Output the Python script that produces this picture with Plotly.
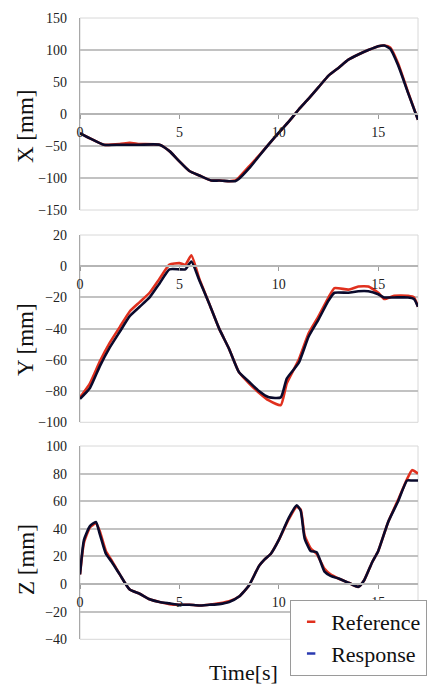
import plotly.graph_objects as go

# ---------------- data ----------------
t_x = [0, 0.5, 1.2, 2.0, 2.5, 3.0, 4.0, 4.5, 5.0, 5.5, 6.0, 6.6, 7.0, 7.5, 7.8, 8.0, 8.5, 9.0, 9.5,
       10.0, 10.5, 11.0, 11.5, 12.0, 12.5, 13.0, 13.5, 14.0, 14.5, 15.0, 15.3, 15.6, 16.0, 16.5, 17.0]
x_resp = [-30, -38, -48, -48, -48, -48, -48, -58, -74, -89, -96, -104, -104, -105, -105, -101, -85, -66, -47,
          -29, -12, 7, 24, 42, 60, 72, 85, 93, 100, 106, 107, 102, 76, 33, -9]
x_ref = [-30, -38, -48, -47, -45, -47, -48, -58, -74, -89, -96, -104, -104, -105, -104, -99, -82, -65, -47,
         -29, -12, 7, 24, 42, 60, 72, 85, 93, 100, 106, 107, 104, 79, 34, -9]

t_y = [0, 0.5, 1.0, 1.5, 2.0, 2.5, 3.0, 3.5, 4.0, 4.5, 5.0, 5.3, 5.6, 6.0, 6.5, 7.0, 7.5, 8.0, 8.5,
       9.0, 9.5, 10.1, 10.4, 11.0, 11.5, 12.0, 12.5, 12.8, 13.5, 14.0, 14.5, 15.0, 15.3, 15.8, 16.5, 16.8, 17.0]
y_resp = [-85, -78, -64, -52, -42, -32, -26, -20, -11, -2, -2, -2, 3, -9, -24, -40, -53, -68, -74,
          -80, -84, -84, -72, -62, -45, -34, -22, -17, -17, -16, -16, -18, -20, -20, -20, -21, -26]
y_ref = [-84, -75, -61, -49, -39, -29, -23, -17, -8, 1, 2, 1, 7, -8, -24, -40, -53, -68, -75,
         -81, -86, -89, -75, -60, -43, -32, -20, -14, -15, -13, -13, -17, -21, -19, -19, -20, -26]

t_z = [0, 0.2, 0.5, 0.8, 1.0, 1.3, 1.6, 2.0, 2.5, 3.0, 3.5, 4.0, 4.5, 5.0, 5.5, 6.0, 6.5, 7.0, 7.5,
       8.0, 8.5, 9.0, 9.3, 9.6, 10.0, 10.5, 10.9, 11.1, 11.3, 11.6, 11.9, 12.3, 12.6, 13.0, 13.5,
       14.0, 14.3, 14.7, 15.0, 15.5, 16.0, 16.45, 16.7, 17.0]
z_resp = [7, 32, 42, 45, 36, 22, 16, 7, -4, -7, -11, -13, -14, -15, -15, -15.5, -15, -14.5, -13,
          -9, -1, 13, 18, 22, 32, 48, 57, 53, 33, 24, 23, 9, 6, 4, 1,
          -2, 3, 16, 24, 45, 60, 75, 75, 75]
z_ref = [7, 30, 41, 44, 38, 24, 17, 7, -4, -7, -11, -13, -14.5, -15, -15, -15.5, -15, -14, -12.5,
         -9, -1, 13, 18, 22, 32, 47, 56, 54, 35, 26, 22, 11, 7, 4, 1,
         -2, 3, 16, 24, 45, 61, 76, 82.5, 80]

x_ticks = [0, 5, 10, 15]
panel_titles = ["X [mm]", "Y [mm]", "Z [mm]"]
series_names = ["Reference", "Response"]

# ---------------- style ----------------
W, H = 428, 684
RED = "#e0301e"
NAVY = "#0a0a2c"
LEG_BLUE = "#2a3ab0"
FONT = "Liberation Serif"

x_dom = [80 / W, 418 / W]
panels = [
    dict(top=18, bot=210, rng=[-150, 150], dtick=50, t=t_x, ref=x_ref, resp=x_resp, title_y=127),
    dict(top=235, bot=422.3, rng=[-100, 20], dtick=20, t=t_y, ref=y_ref, resp=y_resp, title_y=340),
    dict(top=446, bot=639.3, rng=[-40, 100], dtick=20, t=t_z, ref=z_ref, resp=z_resp, title_y=560),
]

fig = go.Figure()
layout = dict(
    width=W, height=H, autosize=False,
    margin=dict(l=0, r=0, t=0, b=0, pad=0, autoexpand=False),
    paper_bgcolor="white", plot_bgcolor="white",
    font=dict(family=FONT, color="#1a1a1a"),
    showlegend=True,
    shapes=[], annotations=[],
)

for i, p in enumerate(panels):
    n = "" if i == 0 else str(i + 1)
    xa, ya = "x" + n, "y" + n
    d0 = 1 - p["bot"] / H
    d1 = 1 - p["top"] / H
    r0, r1 = p["rng"]
    zero_pos = d0 + (0 - r0) / (r1 - r0) * (d1 - d0)

    fig.add_trace(go.Scatter(x=p["t"], y=p["ref"], mode="lines", name=series_names[0],
                             line=dict(color=RED, width=2.6, shape="spline", smoothing=0.5),
                             xaxis=xa, yaxis=ya, showlegend=False, legendgroup="ref"))
    fig.add_trace(go.Scatter(x=p["t"], y=p["resp"], mode="lines", name=series_names[1],
                             line=dict(color=NAVY, width=2.6, shape="spline", smoothing=0.5),
                             xaxis=xa, yaxis=ya, showlegend=False, legendgroup="resp"))

    layout["xaxis" + n] = dict(
        domain=x_dom, range=[0, 17], anchor="free", position=zero_pos,
        tickvals=x_ticks, ticks="outside", ticklen=4, tickcolor="#9a9a9a", tickwidth=1,
        showline=True, linecolor="#b5b5b5", linewidth=1.5,
        showgrid=False, zeroline=False, ticklabelstandoff=1, automargin=False,
        tickfont=dict(family=FONT, size=14, color="#222"),
        fixedrange=True,
    )
    layout["yaxis" + n] = dict(
        domain=[d0, d1], range=p["rng"], dtick=p["dtick"], anchor=xa,
        showgrid=True, gridcolor="#c2c2c2", gridwidth=1.5,
        showline=True, linecolor="#a8a8a8", linewidth=1.2,
        zeroline=False, ticks="", ticklabelstandoff=9, automargin=False,
        tickfont=dict(family=FONT, size=14, color="#222"),
        fixedrange=True,
    )
    layout["shapes"].append(dict(type="rect", xref=xa + " domain", yref=ya + " domain",
                                 x0=0, x1=1, y0=0, y1=1, layer="below",
                                 line=dict(color="#d8d8d8", width=1)))
    layout["annotations"].append(dict(text=panel_titles[i], textangle=-90, showarrow=False,
                                      xref="paper", yref="paper", x=26 / W, y=1 - p["title_y"] / H,
                                      xanchor="center", yanchor="middle",
                                      font=dict(family=FONT, size=23, color="#111")))

layout["annotations"].append(dict(text="Time[s]", showarrow=False, xref="paper", yref="paper",
                                  x=244 / W, y=1 - 672 / H, xanchor="center", yanchor="middle",
                                  font=dict(family=FONT, size=22, color="#111")))

fig.add_trace(go.Scatter(x=[None], y=[None], mode="markers", name=series_names[0],
                         marker=dict(symbol="line-ew", size=6, line=dict(width=2.5, color=RED)),
                         legendgroup="ref"))
fig.add_trace(go.Scatter(x=[None], y=[None], mode="markers", name=series_names[1],
                         marker=dict(symbol="line-ew", size=6, line=dict(width=2.5, color=LEG_BLUE)),
                         legendgroup="resp"))

layout["legend"] = dict(x=0.998, xanchor="right", y=1 - 676 / H, yanchor="bottom",
                        bgcolor="white", bordercolor="#9a9a9a", borderwidth=1,
                        font=dict(family=FONT, size=22, color="#111"),
                        itemwidth=30, tracegroupgap=0)

fig.update_layout(**layout)
fig.write_html("out.html", config={"displayModeBar": False},
               post_script="document.body.style.margin='0px';document.body.style.overflow='hidden';")
